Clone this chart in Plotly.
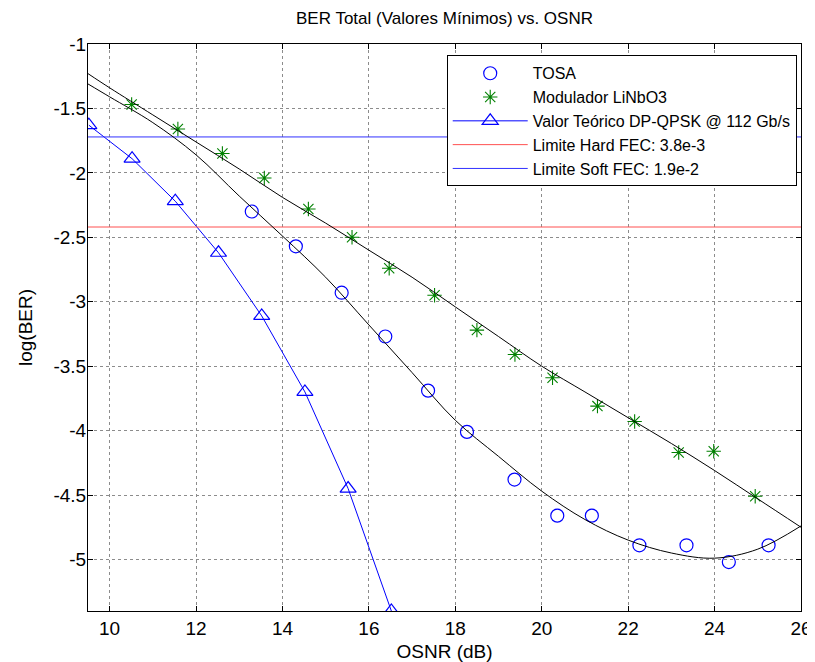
import plotly.graph_objects as go
import numpy as np

# ---- data ----
tosa_x = [13.29, 14.31, 15.37, 16.38, 17.37, 18.27, 19.37, 20.36, 21.16, 22.26, 23.35, 24.33, 25.25]
tosa_y = [-2.30, -2.57, -2.93, -3.27, -3.69, -4.01, -4.38, -4.66, -4.66, -4.89, -4.89, -5.02, -4.89]

linbo3_x = [10.51, 11.58, 12.61, 13.58, 14.60, 15.61, 16.47, 17.52, 18.50, 19.38, 20.25, 21.29, 22.15, 23.17, 23.98, 24.94]
linbo3_y = [-1.47, -1.66, -1.85, -2.04, -2.28, -2.50, -2.74, -2.95, -3.22, -3.41, -3.59, -3.81, -3.93, -4.17, -4.16, -4.51]

theory_x = [9.52, 10.52, 11.52, 12.52, 13.52, 14.52, 15.52, 16.52]
theory_y = [-1.63, -1.89, -2.22, -2.62, -3.11, -3.70, -4.45, -5.40]

fit_x = [9.5, 10, 11, 12, 13, 14, 15, 16, 17, 18, 19, 20, 21, 22, 23, 24, 25, 26]
fit_tosa_y = [-1.31, -1.41, -1.61, -1.86, -2.18, -2.49, -2.81, -3.18, -3.55, -3.92,
              -4.20, -4.47, -4.69, -4.85, -4.95, -4.99, -4.92, -4.74]
fit_linbo3_y = [-1.23, -1.34, -1.55, -1.76, -1.97, -2.19, -2.39, -2.60, -2.81, -3.04,
                -3.27, -3.50, -3.70, -3.90, -4.10, -4.31, -4.53, -4.75]

x_limits = [9.5, 26]
y_limits = [-5.4, -1]
hard_fec = np.log10(3.8e-3)
soft_fec = np.log10(1.9e-2)

x_ticks = [10, 12, 14, 16, 18, 20, 22, 24, 26]
y_ticks = [-1, -1.5, -2, -2.5, -3, -3.5, -4, -4.5, -5]
y_tick_labels = ["-1", "-1.5", "-2", "-2.5", "-3", "-3.5", "-4", "-4.5", "-5"]

FONT = "Liberation Sans, Arial, sans-serif"

fig = go.Figure()

fig.add_trace(go.Scatter(x=tosa_x, y=tosa_y, mode="markers", name="TOSA",
                         marker=dict(symbol="circle-open", size=13, color="#0000ff",
                                     line=dict(width=1.2, color="#0000ff")),
                         legendgroup="a"))
fig.add_trace(go.Scatter(x=linbo3_x, y=linbo3_y, mode="markers", name="Modulador LiNbO3",
                         marker=dict(symbol="asterisk-open", size=12, color="#008000",
                                     line=dict(width=1.1, color="#008000")),
                         legendgroup="b"))
fig.add_trace(go.Scatter(x=theory_x, y=theory_y, mode="lines+markers",
                         name="Valor Teórico DP-QPSK @ 112 Gb/s",
                         line=dict(color="#0000ff", width=1),
                         marker=dict(symbol="triangle-up-open", size=14, color="#0000ff",
                                     line=dict(width=1.2, color="#0000ff")),
                         legendgroup="c"))
fig.add_trace(go.Scatter(x=x_limits, y=[hard_fec, hard_fec], mode="lines",
                         name="Limite Hard FEC: 3.8e-3",
                         line=dict(color="#ff5050", width=1), legendgroup="d"))
fig.add_trace(go.Scatter(x=x_limits, y=[soft_fec, soft_fec], mode="lines",
                         name="Limite Soft FEC: 1.9e-2",
                         line=dict(color="#3030ff", width=1), legendgroup="e"))
fig.add_trace(go.Scatter(x=fit_x, y=fit_tosa_y, mode="lines", showlegend=False,
                         line=dict(color="black", width=1, shape="spline")))
fig.add_trace(go.Scatter(x=fit_x, y=fit_linbo3_y, mode="lines", showlegend=False,
                         line=dict(color="black", width=1, shape="spline")))

axis_common = dict(showline=True, linecolor="black", linewidth=1, mirror="ticks",
                   ticks="inside", ticklen=5, tickcolor="black", automargin=False,
                   showgrid=True, gridcolor="#8c8c8c", gridwidth=1, griddash="dot",
                   zeroline=False, tickfont=dict(family=FONT, size=19, color="black"))

fig.update_xaxes(range=x_limits, tickvals=x_ticks, ticktext=[str(t) for t in x_ticks],
                 title=dict(text="OSNR (dB)", font=dict(family=FONT, size=19, color="black")),
                 ticklabelstandoff=0,
                 **axis_common)
fig.update_yaxes(range=y_limits, tickvals=y_ticks, ticktext=y_tick_labels,
                 title=dict(text="log(BER)", font=dict(family=FONT, size=19, color="black")),
                 ticklabelstandoff=-3,
                 **axis_common)

# the page body adds an 8 px offset, so the figure is sized/margined to compensate
fig.update_layout(
    width=807, height=654,
    margin=dict(l=80, r=14, t=36, b=51),
    paper_bgcolor="white", plot_bgcolor="white",
    title=dict(text="BER Total (Valores Mínimos) vs. OSNR", xref="paper", x=0.5,
               xanchor="center", y=0.985, yanchor="middle",
               font=dict(family=FONT, size=17, color="black")),
    legend=dict(x=0.994, xanchor="right", y=0.98, yanchor="top",
                bgcolor="white", bordercolor="black", borderwidth=1,
                font=dict(family=FONT, size=16, color="black"),
                traceorder="grouped", tracegroupgap=0, itemwidth=75),
    showlegend=True,
)

fig.write_html("out.html")
